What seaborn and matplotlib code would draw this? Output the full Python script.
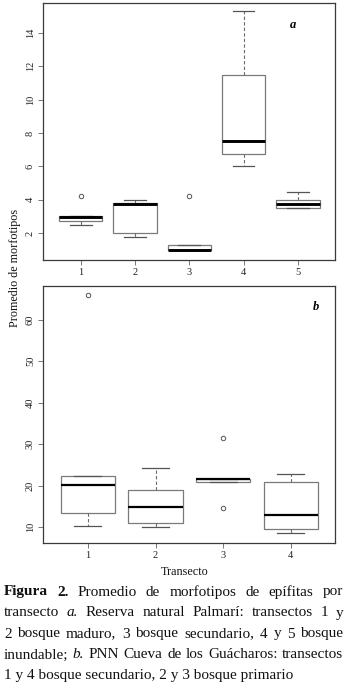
import matplotlib
matplotlib.use("Agg")
import matplotlib.pyplot as plt
import seaborn as sns
import pandas as pd

# ---------------- data ----------------
cats_a = ["1", "2", "3", "4", "5"]
a_t1 = [2.47, 2.73, 3.00, 3.05, 4.23]
a_t2 = [1.76, 2.00, 3.76, 3.80, 4.00]
a_t3 = [1.00, 1.00, 1.00, 1.27, 4.23]
a_t4 = [6.00, 6.74, 7.50, 11.50, 15.30]
a_t5 = [3.50, 3.50, 3.76, 4.02, 4.49]

cats_b = ["1", "2", "3", "4"]
b_t1 = [10.3, 13.4, 20.1, 22.4, 65.9]
b_t2 = [10.0, 11.0, 14.9, 19.0, 24.4]
b_t3 = [14.6, 20.8, 21.6, 21.6, 31.6]
b_t4 = [8.6, 9.6, 13.0, 21.0, 22.8]

yticks_a = [2, 4, 6, 8, 10, 12, 14]
yticks_b = [10, 20, 30, 40, 50, 60]

ylabel = "Promedio de morfotipos"
xlabel = "Transecto"

caption_lines = [
    [("Figura 2.", "bold", "normal"), ("Promedio de morfotipos de epífitas por", "normal", "normal")],
    [("transecto", "normal", "normal"), ("a.", "normal", "italic"),
     ("Reserva natural Palmarí: transectos 1 y", "normal", "normal")],
    [("2 bosque maduro, 3 bosque secundario, 4 y 5 bosque", "normal", "normal")],
    [("inundable;", "normal", "normal"), ("b.", "normal", "italic"),
     ("PNN Cueva de los Guácharos: transectos", "normal", "normal")],
    [("1 y 4 bosque secundario, 2 y 3 bosque primario", "normal", "normal")],
]

df_a = pd.DataFrame({
    "transecto": sum([[c] * len(v) for c, v in zip(cats_a, [a_t1, a_t2, a_t3, a_t4, a_t5])], []),
    "valor": a_t1 + a_t2 + a_t3 + a_t4 + a_t5,
})
df_b = pd.DataFrame({
    "transecto": sum([[c] * len(v) for c, v in zip(cats_b, [b_t1, b_t2, b_t3, b_t4])], []),
    "valor": b_t1 + b_t2 + b_t3 + b_t4,
})

# ---------------- style ----------------
SERIF = ["Liberation Serif", "DejaVu Serif"]
plt.rcParams["font.family"] = SERIF
plt.rcParams["font.serif"] = SERIF

W, H = 348, 688
fig = plt.figure(figsize=(W / 100, H / 100), dpi=100)
fig.patch.set_facecolor("white")

def px_axes(left, top, right, bottom):
    return fig.add_axes([left / W, 1 - bottom / H, (right - left) / W, (bottom - top) / H])

ax1 = px_axes(43.3, 2.7, 335.3, 260.0)
ax2 = px_axes(43.3, 285.7, 335.3, 542.7)

BOXC = "#7a7a7a"

def draw(ax, df, order, medlw):
    sns.boxplot(
        data=df, x="transecto", y="valor", order=order, ax=ax,
        width=0.8, color="white", saturation=1, linecolor=BOXC, linewidth=0.9,
        whis=1.5, fliersize=3.2,
        medianprops=dict(color="black", linewidth=medlw),
        whiskerprops=dict(color="#6a6a6a", linestyle=(0, (3, 2)), linewidth=0.8),
        capprops=dict(color="#555555", linestyle="-", linewidth=0.9),
        flierprops=dict(marker="o", markerfacecolor="none", markeredgecolor="#555555",
                        markeredgewidth=0.7, markersize=3.2),
    )
    ax.set_xlabel("")
    ax.set_ylabel("")
    for s in ax.spines.values():
        s.set_color("#3a3a3a")
        s.set_linewidth(0.9)
    ax.tick_params(axis="both", direction="out", length=3.6, width=0.7, color="#777777",
                   labelsize=7.5, labelcolor="#222222", pad=2.5)
    ax.tick_params(axis="y", labelrotation=90)

draw(ax1, df_a, cats_a, 2.1)
ax1.set_xlim(-0.69, 4.69)
ax1.set_ylim(0.4, 15.8)
ax1.set_yticks(yticks_a)
ax1.set_yticklabels([str(v) for v in yticks_a], rotation=90, va="center")

draw(ax2, df_b, cats_b, 1.6)
ax2.set_xlim(-0.66, 3.66)
ax2.set_ylim(6.3, 68.2)
ax2.set_yticks(yticks_b)
ax2.set_yticklabels([str(v) for v in yticks_b], rotation=90, va="center")

ax1.text(293 / W, 1 - 25 / H, "a", transform=fig.transFigure, fontsize=9,
         fontweight="bold", fontstyle="italic", ha="center", va="center")
ax2.text(316 / W, 1 - 307 / H, "b", transform=fig.transFigure, fontsize=9,
         fontweight="bold", fontstyle="italic", ha="center", va="center")

fig.text(15 / W, 1 - 268 / H, ylabel, rotation=90, fontsize=8.7, ha="center", va="center",
         color="#111111")
fig.text(185 / W, 1 - 572 / H, xlabel, fontsize=8.7, ha="center", va="center", color="#111111")

# ---------------- justified caption ----------------
CAP_FS = 11
line_y = [592, 613, 634, 655, 676]
x_left, x_right = 4.0, 343.0
renderer = fig.canvas.get_renderer()

for li, (segs, yy) in enumerate(zip(caption_lines, line_y)):
    last = li == len(caption_lines) - 1
    if last:
        text = " ".join(s[0] for s in segs)
        fig.text(x_left / W, 1 - yy / H, text, fontsize=CAP_FS, ha="left", va="center",
                 color="#111111")
        continue
    words = []
    for text, wt, st in segs:
        for w in text.split(" "):
            words.append((w, wt, st))
    objs = []
    for w, wt, st in words:
        t = fig.text(0, 1 - yy / H, w, fontsize=CAP_FS, fontweight=wt, fontstyle=st,
                     ha="left", va="center", color="#111111")
        objs.append(t)
    widths = [t.get_window_extent(renderer).width for t in objs]
    gap = (x_right - x_left - sum(widths)) / (len(objs) - 1)
    x = x_left
    for t, wdt in zip(objs, widths):
        t.set_x(x / W)
        x += wdt + gap

fig.savefig("out.png", dpi=100, facecolor="white")
